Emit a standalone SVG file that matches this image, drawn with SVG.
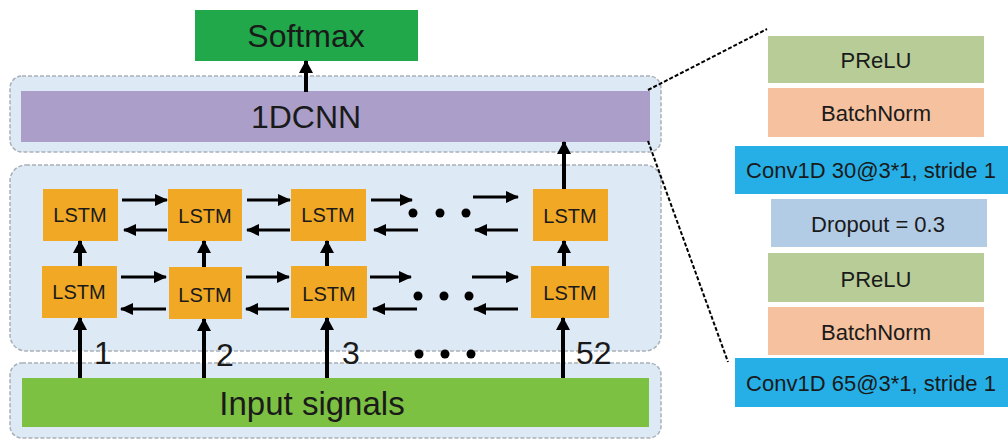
<svg xmlns="http://www.w3.org/2000/svg" width="1008" height="442" viewBox="0 0 1008 442">
<style>
.t{font-family:"Liberation Sans",Arial,sans-serif;fill:#1a1a1a;text-anchor:middle;dominant-baseline:central}
.big{font-size:32px}
.lstm{font-size:20px}
.side{font-size:22px}
.num{font-size:32px;text-anchor:start;dominant-baseline:alphabetic}
.cont{fill:#dde9f5;stroke:#a9b0b8;stroke-width:1.5;stroke-dasharray:4 2}
.box{fill:#f1a925}
.a{stroke:#000;stroke-width:3;fill:none;marker-end:url(#ah)}
.v{stroke:#000;stroke-width:4;fill:none;marker-end:url(#ahv)}
.dash{stroke:#000;stroke-width:2;stroke-dasharray:4 2;fill:none}
</style>
<defs>
<marker id="ah" markerUnits="userSpaceOnUse" markerWidth="14" markerHeight="12" refX="12" refY="6" orient="auto"><path d="M0,0 L13,6 L0,12 Z" fill="#000"/></marker>
<marker id="ahv" markerUnits="userSpaceOnUse" markerWidth="14" markerHeight="14" refX="12" refY="7" orient="auto"><path d="M0,0 L13,7 L0,14 Z" fill="#000"/></marker>
</defs>
<rect width="1008" height="442" fill="#fff"/>
<g id="containers">
<rect class="cont" x="10" y="76" width="651" height="76" rx="12"/>
<rect class="cont" x="10" y="165" width="651" height="186" rx="16"/>
<rect class="cont" x="10" y="363" width="651" height="75" rx="12"/>
</g>
<g id="softmax"><rect x="195" y="10" width="223" height="51" fill="#21a84a"/><text class="t big" x="306" y="36">Softmax</text></g>
<g id="cnn"><rect x="21" y="91" width="629" height="51" fill="#ab9fc9"/><text class="t big" x="306" y="117">1DCNN</text></g>
<g id="input"><rect x="22" y="378" width="627" height="49" fill="#7cc142"/><text class="t big" x="312" y="403" style="font-size:33px">Input signals</text></g>
<g id="lstm-t1"><rect class="box" x="43" y="189" width="75" height="52"/><text class="t lstm" x="80" y="215">LSTM</text></g>
<g id="lstm-t2"><rect class="box" x="168" y="189" width="74" height="52"/><text class="t lstm" x="205" y="216">LSTM</text></g>
<g id="lstm-t3"><rect class="box" x="291" y="189" width="75" height="52"/><text class="t lstm" x="328" y="215">LSTM</text></g>
<g id="lstm-t4"><rect class="box" x="533" y="189" width="75" height="52"/><text class="t lstm" x="570" y="216">LSTM</text></g>
<g id="lstm-b1"><rect class="box" x="42" y="266" width="75" height="52"/><text class="t lstm" x="79" y="292">LSTM</text></g>
<g id="lstm-b2"><rect class="box" x="169" y="267" width="73" height="52"/><text class="t lstm" x="205" y="295">LSTM</text></g>
<g id="lstm-b3"><rect class="box" x="291" y="266" width="76" height="52"/><text class="t lstm" x="329" y="294">LSTM</text></g>
<g id="lstm-b4"><rect class="box" x="531" y="266" width="78" height="52"/><text class="t lstm" x="570" y="293">LSTM</text></g>
<g id="labels">
<text class="t num" x="94" y="364">1</text>
<text class="t num" x="216" y="366">2</text>
<text class="t num" x="342" y="364">3</text>
<text class="t num" x="576" y="364">52</text>
</g>
<g id="dots" fill="#000">
<circle cx="413" cy="213" r="4.5"/><circle cx="440" cy="213" r="4.5"/><circle cx="466" cy="213" r="4.5"/>
<circle cx="418" cy="296" r="4.5"/><circle cx="444" cy="296" r="4.5"/><circle cx="469" cy="296" r="4.5"/>
<circle cx="419" cy="354" r="4.5"/><circle cx="445" cy="354" r="4.5"/><circle cx="471" cy="354" r="4.5"/>
</g>
<g id="side">
<g id="prelu1"><rect x="768" y="36" width="216" height="47" fill="#b8cc98"/><text class="t side" x="876" y="60">PReLU</text></g>
<g id="bn1"><rect x="768" y="88" width="216" height="49" fill="#f5c19e"/><text class="t side" x="876" y="113">BatchNorm</text></g>
<g id="conv30"><rect x="735" y="146" width="273" height="48" fill="#25afe6"/><text class="t side" x="871" y="170">Conv1D 30@3*1, stride 1</text></g>
<g id="dropout"><rect x="771" y="199" width="216" height="48" fill="#b3cce6"/><text class="t side" x="878" y="224">Dropout = 0.3</text></g>
<g id="prelu2"><rect x="768" y="253" width="216" height="49" fill="#b8cc98"/><text class="t side" x="876" y="279">PReLU</text></g>
<g id="bn2"><rect x="768" y="307" width="216" height="48" fill="#f5c19e"/><text class="t side" x="876" y="332">BatchNorm</text></g>
<g id="conv65"><rect x="735" y="358" width="273" height="49" fill="#25afe6"/><text class="t side" x="871" y="383">Conv1D 65@3*1, stride 1</text></g>
</g>
<g id="connectors">
<line class="v" x1="306" y1="92" x2="306" y2="61"/>
<line class="v" x1="564" y1="189" x2="564" y2="142"/>
<line class="v" x1="80" y1="266" x2="80" y2="241"/>
<line class="v" x1="204" y1="267" x2="204" y2="241"/>
<line class="v" x1="327" y1="266" x2="327" y2="241"/>
<line class="v" x1="564" y1="266" x2="564" y2="241"/>
<line class="v" x1="80" y1="378" x2="80" y2="318"/>
<line class="v" x1="204" y1="378" x2="204" y2="319"/>
<line class="v" x1="327" y1="378" x2="327" y2="318"/>
<line class="v" x1="563" y1="378" x2="563" y2="318"/>
<line class="a" x1="122" y1="200" x2="167" y2="200"/>
<line class="a" x1="167" y1="230" x2="124" y2="230"/>
<line class="a" x1="247" y1="200" x2="290" y2="200"/>
<line class="a" x1="290" y1="230" x2="247" y2="230"/>
<line class="a" x1="371" y1="200" x2="412" y2="200"/>
<line class="a" x1="418" y1="230" x2="374" y2="230"/>
<line class="a" x1="473" y1="197" x2="518" y2="197"/>
<line class="a" x1="518" y1="230" x2="475" y2="230"/>
<line class="a" x1="121" y1="277" x2="166" y2="277"/>
<line class="a" x1="166" y1="309" x2="121" y2="309"/>
<line class="a" x1="246" y1="277" x2="289" y2="277"/>
<line class="a" x1="289" y1="309" x2="246" y2="309"/>
<line class="a" x1="370" y1="277" x2="411" y2="277"/>
<line class="a" x1="417" y1="309" x2="373" y2="309"/>
<line class="a" x1="472" y1="277" x2="518" y2="277"/>
<line class="a" x1="518" y1="309" x2="474" y2="309"/>
<line class="dash" x1="648" y1="90" x2="767" y2="29"/>
<line class="dash" x1="648" y1="141" x2="728" y2="362"/>
</g>
</svg>
